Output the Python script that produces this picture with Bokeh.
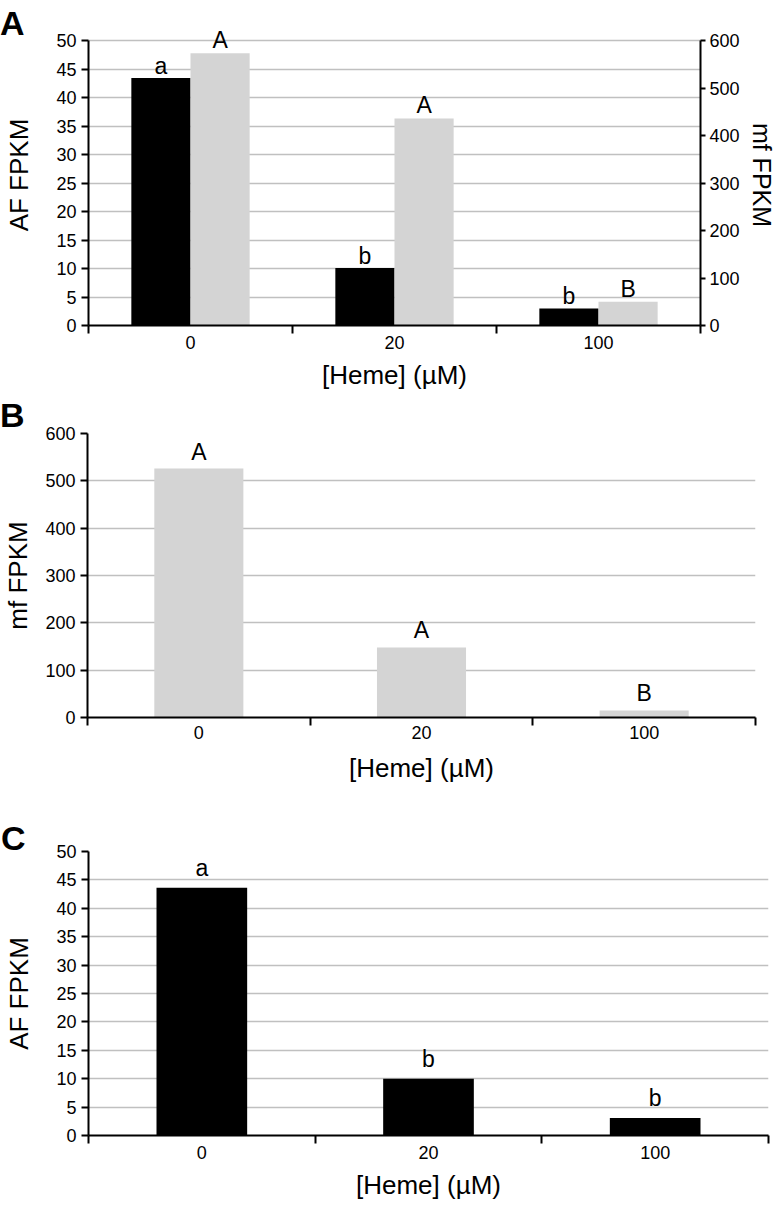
from bokeh.plotting import figure
from bokeh.models import (ColumnDataSource, Range1d, LinearAxis, FixedTicker,
                          SingleIntervalTicker, LabelSet)
from bokeh.core.properties import value
from bokeh.transform import dodge
from bokeh.embed import file_html
from bokeh.resources import INLINE

# ---------------- data ----------------
categories = ["0", "20", "100"]

# Panel A (AF on left axis, mf on right axis)
af_fpkm_a = [43.4, 10.1, 3.0]
mf_fpkm_a = [573, 436, 50]
af_letters_a = ["a", "b", "b"]
mf_letters_a = ["A", "A", "B"]

# Panel B (mf)
mf_fpkm_b = [526, 148, 15]
mf_letters_b = ["A", "A", "B"]

# Panel C (AF)
af_fpkm_c = [43.6, 10.0, 3.1]
af_letters_c = ["a", "b", "b"]

panel_names = ["A", "B", "C"]
x_title = "[Heme] (µM)"
af_title = "AF FPKM"
mf_title = "mf FPKM"

FONT = "Liberation Sans"
BLACK = "#000000"
GRAY = "#d4d4d4"
GRID = "#c0c0c0"
TICK_SIZE = "18px"
TITLE_SIZE = "26px"
LETTER_SIZE = "23px"
W = 780

xpos = [i + 0.5 for i in range(len(categories))]


def style_y(ax, tick_out, standoff, label_standoff, title_size=TITLE_SIZE):
    ax.axis_line_color = BLACK
    ax.axis_line_width = 2
    ax.major_tick_line_color = BLACK
    ax.major_tick_line_width = 2
    ax.major_tick_in = 0
    ax.major_tick_out = tick_out
    ax.minor_tick_line_color = None
    ax.major_label_text_font = FONT
    ax.major_label_text_font_size = TICK_SIZE
    ax.major_label_text_color = BLACK
    ax.major_label_standoff = standoff
    ax.axis_label_text_font = FONT
    ax.axis_label_text_font_size = title_size
    ax.axis_label_text_font_style = "normal"
    ax.axis_label_text_color = BLACK
    ax.axis_label_standoff = label_standoff


def make_fig(width, height, left, right, top, bottom, ymax, yend, ystep, ylabel,
             ylabel_standoff, xlab_standoff, xtitle_standoff):
    p = figure(width=width, height=height, x_range=Range1d(0, len(categories)),
               y_range=Range1d(0, yend), output_backend="svg", toolbar_location=None,
               tools="", min_border_left=left, min_border_right=right,
               min_border_top=top, min_border_bottom=bottom)
    p.outline_line_color = None
    p.background_fill_color = "white"
    p.border_fill_color = "white"
    p.xgrid.visible = False
    p.ygrid.grid_line_color = GRID
    p.ygrid.grid_line_width = 1.5

    xa = p.xaxis[0]
    xa.ticker = FixedTicker(ticks=xpos, minor_ticks=list(range(len(categories) + 1)))
    xa.major_label_overrides = {x: c for x, c in zip(xpos, categories)}
    xa.axis_line_color = BLACK
    xa.axis_line_width = 2
    xa.major_tick_line_color = None
    xa.major_tick_in = 0
    xa.major_tick_out = 0
    xa.minor_tick_line_color = BLACK
    xa.minor_tick_line_width = 2
    xa.minor_tick_in = 0
    xa.minor_tick_out = 8
    xa.major_label_text_font = FONT
    xa.major_label_text_font_size = TICK_SIZE
    xa.major_label_text_color = BLACK
    xa.major_label_standoff = xlab_standoff
    xa.axis_label = x_title
    xa.axis_label_text_font = FONT
    xa.axis_label_text_font_size = TITLE_SIZE
    xa.axis_label_text_font_style = "normal"
    xa.axis_label_text_color = BLACK
    xa.axis_label_standoff = xtitle_standoff

    ya = p.yaxis[0]
    ya.ticker = SingleIntervalTicker(interval=ystep)
    ya.bounds = (0, ymax)
    ya.axis_label = ylabel
    style_y(ya, 7, 5, ylabel_standoff)
    return p


def letters(p, xs, ys, texts, offset, **kw):
    src = ColumnDataSource(dict(x=xs, y=ys, t=texts))
    p.add_layout(LabelSet(x="x", y="y", text="t", source=src, y_offset=offset,
                          text_font=value(FONT), text_font_size=value(LETTER_SIZE),
                          text_color=BLACK, text_align="center",
                          text_baseline="alphabetic", **kw))


# ---------------- Panel A ----------------
A_EXT = 301 / 285
pA = make_fig(W, 394, 88, 80, 24, 69, 50, 50 * A_EXT, 5, af_title, 19, 2, 8)
pA.extra_y_ranges = {"mf": Range1d(0, 600 * A_EXT)}
right = LinearAxis(y_range_name="mf", ticker=SingleIntervalTicker(interval=100),
                   axis_label=mf_title, bounds=(0, 600))
style_y(right, 5, 4, 5, "25px")
pA.add_layout(right, "right")

srcA = ColumnDataSource(dict(x=xpos, af=af_fpkm_a, mf=mf_fpkm_a))
pA.vbar(x=dodge("x", -0.145, range=pA.x_range), top="af", width=0.29, source=srcA,
        fill_color=BLACK, line_color=None)
pA.vbar(x=dodge("x", 0.145, range=pA.x_range), top="mf", width=0.29, source=srcA,
        fill_color=GRAY, line_color=None, y_range_name="mf")
letters(pA, [x - 0.145 for x in xpos], af_fpkm_a, af_letters_a, 4)
letters(pA, [x + 0.145 for x in xpos], mf_fpkm_a, mf_letters_a, 5, y_range_name="mf")

# ---------------- Panel B ----------------
pB = make_fig(W, 406, 87, 25, 39, 83, 600, 600, 100, mf_title, 9, 0, 11)
srcB = ColumnDataSource(dict(x=xpos, mf=mf_fpkm_b))
pB.vbar(x="x", top="mf", width=0.40, source=srcB, fill_color=GRAY, line_color=None)
letters(pB, xpos, mf_fpkm_b, mf_letters_b, 9)

# ---------------- Panel C ----------------
pC = make_fig(W, 404, 88, 12, 51, 69, 50, 50, 5, af_title, 19, 2, 8)
srcC = ColumnDataSource(dict(x=xpos, af=af_fpkm_c))
pC.vbar(x="x", top="af", width=0.40, source=srcC, fill_color=BLACK, line_color=None)
letters(pC, xpos, af_fpkm_c, af_letters_c, 12)

html = file_html([pA, pB, pC], INLINE, title="Heme FPKM")

# bold panel letters (page coordinates)
letter_pos = [(0, 6), (0, 398), (1, 821)]
marks = "".join(
    f'<div style="position:absolute;left:{lx}px;top:{ly}px;z-index:10;'
    f"font-family:'Liberation Sans';font-weight:bold;font-size:34px;line-height:1;"
    f'color:#000">{name}</div>'
    for name, (lx, ly) in zip(panel_names, letter_pos))
cut = html.rfind("</body>")
html = html[:cut] + marks + html[cut:]
open("out.html", "w").write(html)
